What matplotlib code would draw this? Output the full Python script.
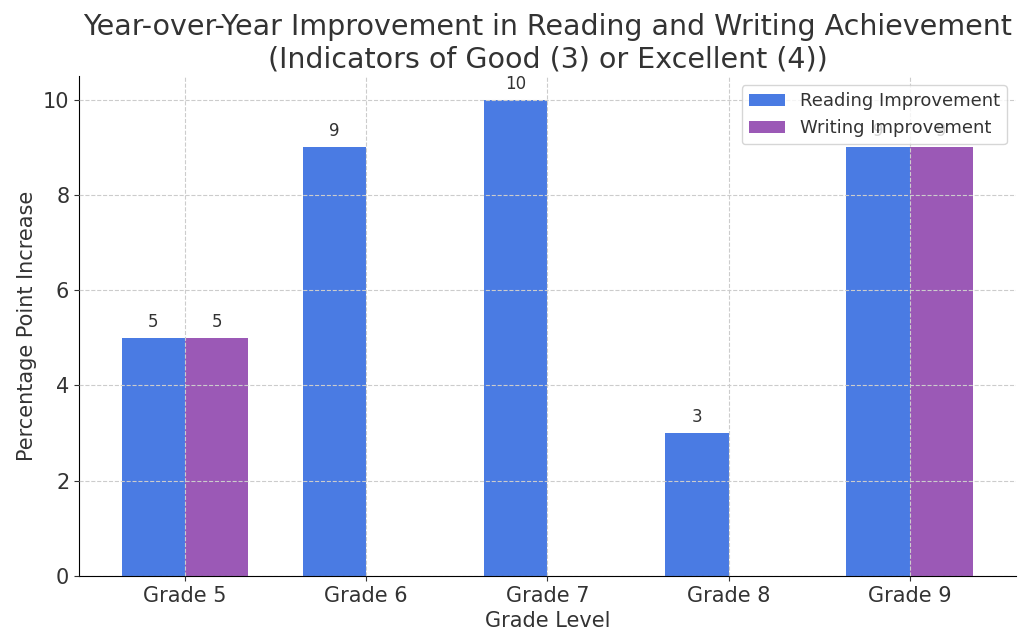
import matplotlib.pyplot as plt
import numpy as np

# data
grades = ["Grade 5", "Grade 6", "Grade 7", "Grade 8", "Grade 9"]
reading = [5, 9, 10, 3, 9]
writing = [5, 0, 0, 0, 9]

fig, ax = plt.subplots(figsize=(10.2, 6.31), dpi=100)
fig.subplots_adjust(left=0.0775, right=0.996, top=0.8796, bottom=0.0872)

x = np.arange(len(grades))
w = 0.35

b1 = ax.bar(x - w / 2, reading, w, label="Reading Improvement", color="#4a7be3")
b2 = ax.bar(x + w / 2, writing, w, label="Writing Improvement", color="#9b59b6")

# labels only for non-zero bars
for bars in (b1, b2):
    for rect in bars:
        h = rect.get_height()
        if h > 0:
            ax.annotate(f"{h:g}", (rect.get_x() + rect.get_width() / 2, h),
                        xytext=(0, 5), textcoords="offset points",
                        ha="center", va="bottom", fontsize=12, color="#333333")

ax.set_xticks(x)
ax.set_xticklabels(grades, fontsize=15)
ax.tick_params(axis="both", labelsize=15, colors="#333333")
ax.set_xlabel("Grade Level", fontsize=15, color="#333333")
ax.set_ylabel("Percentage Point Increase", fontsize=15, color="#333333")
ax.set_title("Year-over-Year Improvement in Reading and Writing Achievement\n(Indicators of Good (3) or Excellent (4))",
             fontsize=20.5, color="#333333")

ax.spines["top"].set_visible(False)
ax.spines["right"].set_visible(False)
ax.grid(True, linestyle="--", color="#cccccc", linewidth=0.8)
ax.set_axisbelow(False)
leg = ax.legend(loc="upper right", fontsize=13)
for t in leg.get_texts():
    t.set_color("#333333")

plt.savefig("out.png")
